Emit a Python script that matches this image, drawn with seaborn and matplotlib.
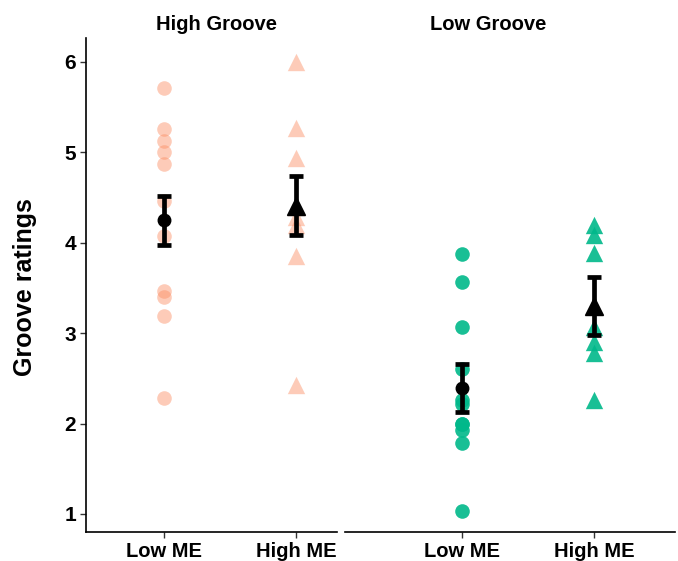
import numpy as np
import pandas as pd
import matplotlib
matplotlib.use("Agg")
import matplotlib.pyplot as plt
import seaborn as sns

sns.set_theme(style="white")
plt.rcParams['font.family'] = ['Liberation Sans', 'DejaVu Sans']
plt.rcParams['text.color'] = 'black'
plt.rcParams['xtick.color'] = 'black'
plt.rcParams['ytick.color'] = 'black'
plt.rcParams['axes.labelcolor'] = 'black'

panels = ["High Groove", "Low Groove"]
conditions = ["Low ME", "High ME"]

hg_low = [5.71, 5.26, 5.13, 5.00, 4.87, 4.46, 4.08, 3.47, 3.40, 3.19, 2.28]
hg_high = [6.00, 5.27, 4.94, 4.40, 4.29, 4.20, 3.85, 2.43]
lg_low = [3.88, 3.57, 3.07, 2.60, 2.26, 2.22, 2.00, 1.99, 1.93, 1.79, 1.03]
lg_high = [4.20, 4.09, 3.89, 3.07, 2.90, 2.78, 2.26]

means_hg = [4.25, 4.41]
se_hg = [0.27, 0.325]
means_lg = [2.39, 3.30]
se_lg = [0.265, 0.32]

rows = []
for panel, lo, hi in [("High Groove", hg_low, hg_high), ("Low Groove", lg_low, lg_high)]:
    rows += [(panel, "Low ME", v) for v in lo]
    rows += [(panel, "High ME", v) for v in hi]
df = pd.DataFrame(rows, columns=["groove", "ME", "rating"])

W, H = 678, 561
fig = plt.figure(figsize=(W / 100, H / 100), dpi=100)

def px_axes(x0, x1, y0, y1):
    return fig.add_axes([x0 / W, 1 - y1 / H, (x1 - x0) / W, (y1 - y0) / H])

axL = px_axes(86, 337, 38, 532)
axR = px_axes(345, 675, 38, 532)

styles = {
    "High Groove": dict(color="#FC8D62", alpha=0.45),
    "Low Groove": dict(color="#00B88A", alpha=0.9),
}
summ = {"High Groove": (means_hg, se_hg), "Low Groove": (means_lg, se_lg)}
markers = {"Low ME": "o", "High ME": "^"}
sizes = {"Low ME": 10.5, "High ME": 12.5}

for ax, panel in [(axL, "High Groove"), (axR, "Low Groove")]:
    sub = df[df.groove == panel]
    for cond in conditions:
        d = sub[sub.ME == cond]
        sns.stripplot(data=d, x="ME", y="rating", order=conditions, jitter=False,
                      marker=markers[cond], size=sizes[cond], linewidth=0,
                      color=styles[panel]["color"], alpha=styles[panel]["alpha"],
                      ax=ax, zorder=2)
    m, s = summ[panel]
    for i, cond in enumerate(conditions):
        ax.errorbar([i], [m[i]], yerr=[s[i]], fmt=markers[cond], color="black",
                    ms=9 if cond == "Low ME" else 12.5, elinewidth=3.4, capsize=5,
                    capthick=3.4, zorder=5)
    ax.set_ylim(0.80, 6.265)
    ax.set_xlabel("")
    ax.set_ylabel("")
    for sp in ["top", "right"]:
        ax.spines[sp].set_visible(False)
    ax.spines["bottom"].set_color("black")
    ax.spines["bottom"].set_linewidth(1.2)
    ax.tick_params(axis="x", bottom=True, length=4, width=1, color="#333333",
                   labelsize=14.5, pad=3, labelcolor="black")
    for t in ax.get_xticklabels():
        t.set_fontweight("bold")

axL.set_xlim(-(164 - 86) / 132, 1 + (337 - 296) / 132)
axR.set_xlim(-(462 - 345) / 132, 1 + (675 - 594) / 132)

axL.spines["left"].set_color("black")
axL.spines["left"].set_linewidth(1.2)
axL.set_yticks([1, 2, 3, 4, 5, 6])
axL.tick_params(axis="y", left=True, length=4, width=1, color="#333333",
                labelsize=15, pad=3, labelcolor="black")
for t in axL.get_yticklabels():
    t.set_fontweight("bold")

axR.spines["left"].set_visible(False)
axR.set_yticks([])

fig.text(217 / W, 1 - 24 / H, "High Groove", ha="center", va="center",
         fontsize=14.5, fontweight="bold", color="black")
fig.text(488 / W, 1 - 24 / H, "Low Groove", ha="center", va="center",
         fontsize=14.5, fontweight="bold", color="black")
fig.text(25 / W, 1 - 287 / H, "Groove ratings", ha="center", va="center",
         rotation=90, fontsize=18, fontweight="bold", color="black")

fig.savefig("out.png", dpi=100)
